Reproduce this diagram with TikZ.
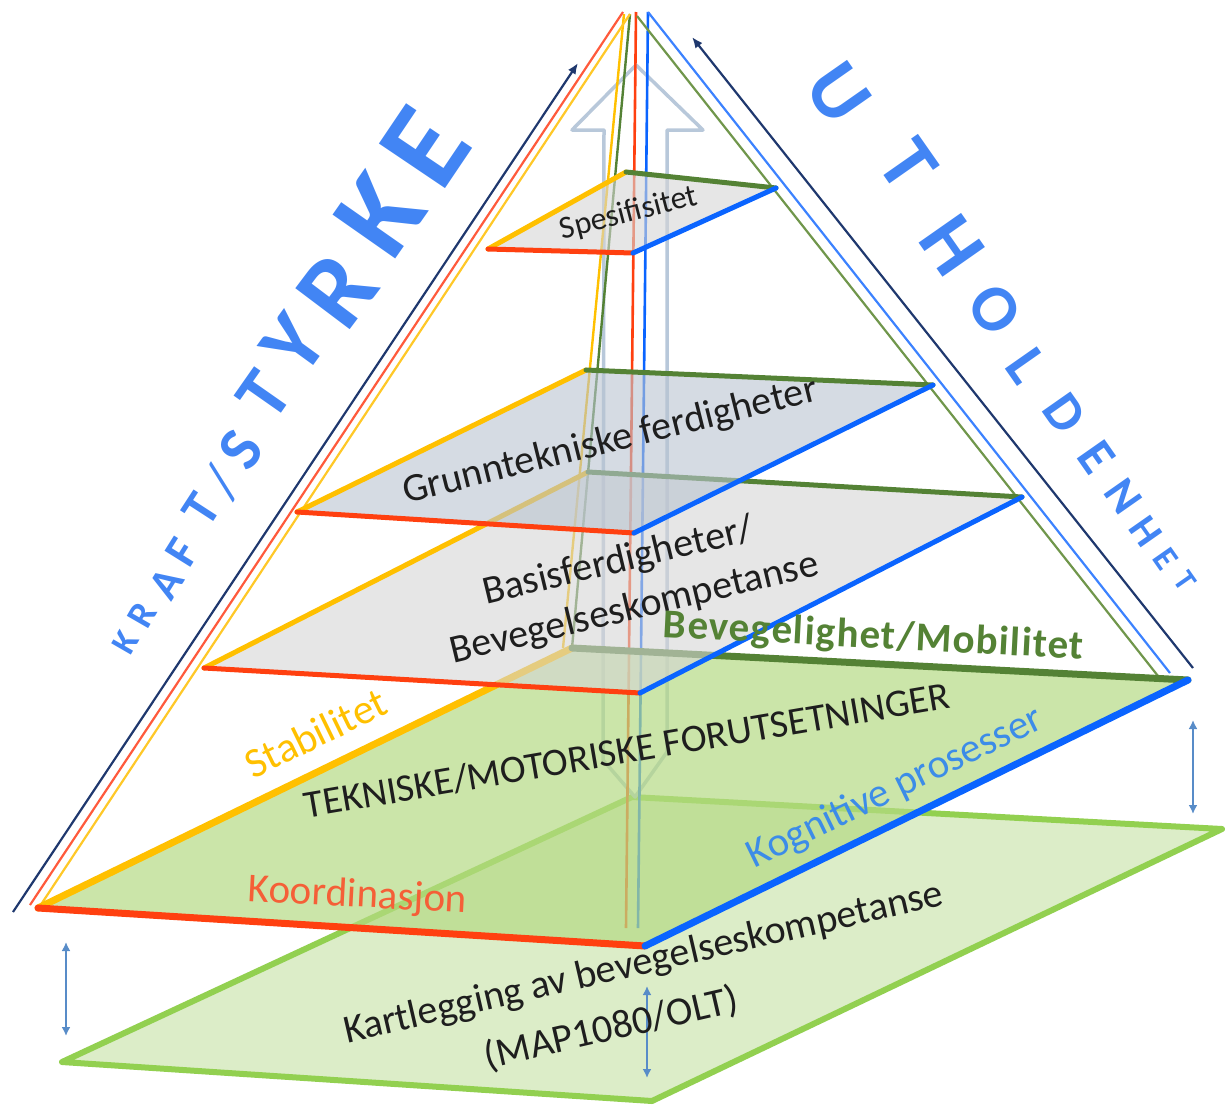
\documentclass[tikz,border=0pt]{standalone}
\usepackage{fontspec}
\setmainfont{Carlito}
\usetikzlibrary{arrows.meta}

\definecolor{edgered}{RGB}{255,64,16}
\definecolor{edgeyellow}{RGB}{255,192,0}
\definecolor{edgeblue}{RGB}{10,100,255}
\definecolor{edgegreen}{RGB}{84,130,53}
\definecolor{navyline}{RGB}{31,56,110}
\definecolor{thinred}{RGB}{255,90,60}
\definecolor{thinyellow}{RGB}{255,200,40}
\definecolor{thingreen}{RGB}{112,150,75}
\definecolor{thinblue}{RGB}{60,130,255}
\definecolor{wordblue}{RGB}{66,133,244}
\definecolor{arrowgray}{RGB}{184,200,218}
\definecolor{steel}{RGB}{88,140,200}
\definecolor{basefill}{RGB}{220,237,200}
\definecolor{baseedge}{RGB}{146,208,80}
\definecolor{motorfill}{RGB}{181,218,132}
\definecolor{grayfill}{RGB}{213,213,213}
\definecolor{bluegrayfill}{RGB}{185,195,208}
\definecolor{koordtext}{RGB}{245,95,55}
\definecolor{kogntext}{RGB}{60,140,232}
\definecolor{labeltext}{RGB}{30,30,30}

\begin{document}
\begin{tikzpicture}[x=1pt,y=-1pt,line join=round,
  wordletter/.style={text=wordblue, inner sep=0pt, anchor=center},
  layerlabel/.style={anchor=base, inner sep=0pt, text=labeltext,
    font=\fontsize{40}{44}\selectfont},
  rimline/.style={line width=2.2pt},
  floorfill/.style={fill opacity=0.6, draw=none},
  bigedge/.style={line width=7pt, line cap=round},
  smalledge/.style={line width=5pt, line cap=round},
  gapmark/.style={steel, line width=2.4pt,
    {Latex[length=9pt,width=9pt]}-{Latex[length=9pt,width=9pt]}},
  navytip/.style={navyline, line width=2.2pt, {Latex[length=11pt,width=9pt]}-}
  ]
\useasboundingbox (0,0) rectangle (1226,1106);

% ---------- corner points ----------
% assessment base
\coordinate (BL) at (62,1062);  \coordinate (BF) at (652,1101);
\coordinate (BR) at (1222,829); \coordinate (BB) at (632,797);
% level 1: technical / motor prerequisites
\coordinate (AL) at (38,908);   \coordinate (AF) at (645,946);
\coordinate (AR) at (1188,680); \coordinate (AB) at (572,648);
% level 2: basic skills
\coordinate (CL) at (204,668);  \coordinate (CF) at (640,693);
\coordinate (CR) at (1022,497); \coordinate (CB) at (588,472);
% level 3: basic technical skills
\coordinate (DL) at (297,512);  \coordinate (DF) at (634,533);
\coordinate (DR) at (933,385);  \coordinate (DB) at (586,370);
% level 4: specificity
\coordinate (EL) at (488,249);  \coordinate (EF) at (633,253);
\coordinate (ER) at (776,188);  \coordinate (EB) at (626,172);

% ---------- assessment base ----------
\filldraw[fill=basefill, draw=baseedge, line width=6pt] (BL) -- (BF) -- (BR) -- (BB) -- cycle;

% ---------- big upward arrow (outline) ----------
\coordinate (ArTip) at (636,65);
\coordinate (ArHR) at (703,130);  \coordinate (ArSR) at (667,130);
\coordinate (ArSRb) at (667,752); \coordinate (ArBot) at (635,797);
\coordinate (ArSLb) at (603,760); \coordinate (ArSL) at (604,130);
\coordinate (ArHL) at (572,130);
\draw[arrowgray, line width=3.5pt] (ArTip) -- (ArHR) -- (ArSR) -- (ArSRb) -- (ArBot)
  -- (ArSLb) -- (ArSL) -- (ArHL) -- cycle;

% ---------- pyramid edges ----------
\coordinate (RedTop) at (636,12);   \coordinate (RedBot) at (626,928);
\coordinate (BlueTop) at (648,12);  \coordinate (BlueBot) at (638,928);
\coordinate (YelTop) at (624,14);   \coordinate (YelBot) at (563,648);
\coordinate (GrnTop) at (630,14);   \coordinate (GrnBot) at (572,648);
\draw[edgered, line width=2.6pt] (RedTop) -- (RedBot);
\draw[edgeblue, line width=2.6pt] (BlueTop) -- (BlueBot);
\draw[edgeyellow, line width=2.4pt] (YelTop) -- (YelBot);
\draw[edgegreen, line width=2.4pt] (GrnTop) -- (GrnBot);

% outer rims, left
\coordinate (LRedTop) at (623,12);  \coordinate (LRedBot) at (30,905);
\coordinate (LYelTop) at (630,14);  \coordinate (LYelBot) at (40,906);
\coordinate (LNavTop) at (578,63);  \coordinate (LNavBot) at (13,912);
\draw[rimline, thinred] (LRedTop) -- (LRedBot);
\draw[rimline, thinyellow] (LYelTop) -- (LYelBot);
\draw[navytip] (LNavTop) -- (LNavBot);
% outer rims, right
\coordinate (RBluTop) at (648,12);  \coordinate (RBluBot) at (1170,673);
\coordinate (RGrnTop) at (637,16);  \coordinate (RGrnBot) at (1158,676);
\coordinate (RNavTop) at (692,37);  \coordinate (RNavBot) at (1193,668);
\draw[rimline, thingreen] (RGrnTop) -- (RGrnBot);
\draw[rimline, thinblue] (RBluTop) -- (RBluBot);
\draw[navytip] (RNavTop) -- (RNavBot);

% ---------- level 1 ----------
\fill[floorfill, fill=motorfill, fill opacity=0.7] (AL) -- (AF) -- (AR) -- (AB) -- cycle;
\draw[bigedge, edgeyellow] (AB) -- (AL);
\draw[bigedge, edgegreen] (AR) -- (AB);
\draw[bigedge, edgered] (AL) -- (AF);
\draw[bigedge, edgeblue] (AF) -- (AR);

% ---------- level 2 ----------
\fill[floorfill, fill=grayfill] (CL) -- (CF) -- (CR) -- (CB) -- cycle;
\draw[smalledge, edgeyellow] (CB) -- (CL);
\draw[smalledge, edgegreen] (CR) -- (CB);
\draw[smalledge, edgered] (CL) -- (CF);
\draw[smalledge, edgeblue] (CF) -- (CR);

% ---------- level 3 ----------
\fill[floorfill, fill=bluegrayfill] (DL) -- (DF) -- (DR) -- (DB) -- cycle;
\draw[smalledge, edgeyellow] (DB) -- (DL);
\draw[smalledge, edgegreen] (DR) -- (DB);
\draw[smalledge, edgered] (DL) -- (DF);
\draw[smalledge, edgeblue] (DF) -- (DR);

% ---------- level 4 ----------
\fill[floorfill, fill=grayfill] (EL) -- (EF) -- (ER) -- (EB) -- cycle;
\draw[smalledge, edgeyellow] (EB) -- (EL);
\draw[smalledge, edgegreen] (ER) -- (EB);
\draw[smalledge, edgered] (EL) -- (EF);
\draw[smalledge, edgeblue] (EF) -- (ER);

% ---------- spacing markers ----------
\coordinate (GapLa) at (66,942);   \coordinate (GapLb) at (66,1036);
\coordinate (GapMa) at (647,986);  \coordinate (GapMb) at (647,1078);
\coordinate (GapRa) at (1193,720); \coordinate (GapRb) at (1193,814);
\draw[gapmark] (GapLa) -- (GapLb);
\draw[gapmark] (GapMa) -- (GapMb);
\draw[gapmark] (GapRa) -- (GapRb);

% ---------- level labels ----------
\node[layerlabel, font=\fontsize{32}{36}\selectfont, rotate=14.5] (spes) at (631,222) {Spesifisitet};
\node[layerlabel, rotate=14] (grunn) at (613,452) {Grunntekniske ferdigheter};
\node[layerlabel, rotate=13.5] (basisA) at (621,572) {Basisferdigheter/};
\node[layerlabel, rotate=13.5] (basisB) at (637,619) {Bevegelseskompetanse};
\node[layerlabel, rotate=9.7, font=\fontsize{39}{44}\selectfont] (motor) at (629,763) {TEKNISKE/MOTORISKE FORUTSETNINGER};
\node[layerlabel, rotate=13] (kartA) at (646,974) {Kartlegging av bevegelseskompetanse};
\node[layerlabel, rotate=13] (kartB) at (614,1040) {(MAP1080/OLT)};

% ---------- edge labels ----------
\node[layerlabel, rotate=-3, text=koordtext, font=\fontsize{41}{44}\selectfont] (koord) at (357,907) {Koordinasjon};
\node[layerlabel, rotate=26, text=edgeyellow, font=\fontsize{42}{44}\selectfont] (stab) at (322,746) {Stabilitet};
\node[layerlabel, rotate=26, text=kogntext, font=\fontsize{41}{44}\selectfont] (kogn) at (900,798) {Kognitive prosesser};
\node[layerlabel, rotate=-3, text=edgegreen,
  font={\bfseries\fontsize{41}{44}\selectfont\addfontfeatures{LetterSpace=3}}] (bevmob) at (873,648) {Bevegelighet/Mobilitet};

% ---------- side words, letter by letter ----------
\foreach \ch/\px/\py/\sz/\ang [count=\i] in {
  K/125/643/35/60, R/142/615/38/60, A/166/584/44/58, F/182/552/47/58,
  T/201/510/52/57, S/241/450/63/56, T/264/395/75/55,
  Y/294/344/88/54, R/337/290/105/53, K/380/215/118/55, E/425/147/123/56}
  \node[wordletter, rotate=\ang, font={\bfseries\fontsize{\sz}{\sz}\selectfont}] (kl\i) at (\px,\py) {\ch};
\node[wordletter, rotate=56, font={\fontsize{56}{56}\selectfont}] (klslash) at (222,482) {/};

\foreach \ch/\px/\py/\sz [count=\i] in {
  U/838/93/80, T/908/165/80, H/952/245/80, O/995/309/66, L/1027/366/60,
  D/1065/413/54, E/1097/457/52, N/1123/496/46, H/1146/531/41, E/1166/559/35,
  T/1185/581/31}
  \node[wordletter, rotate=-55, font={\bfseries\fontsize{\sz}{\sz}\selectfont}] (ul\i) at (\px,\py) {\ch};
\end{tikzpicture}
\end{document}
